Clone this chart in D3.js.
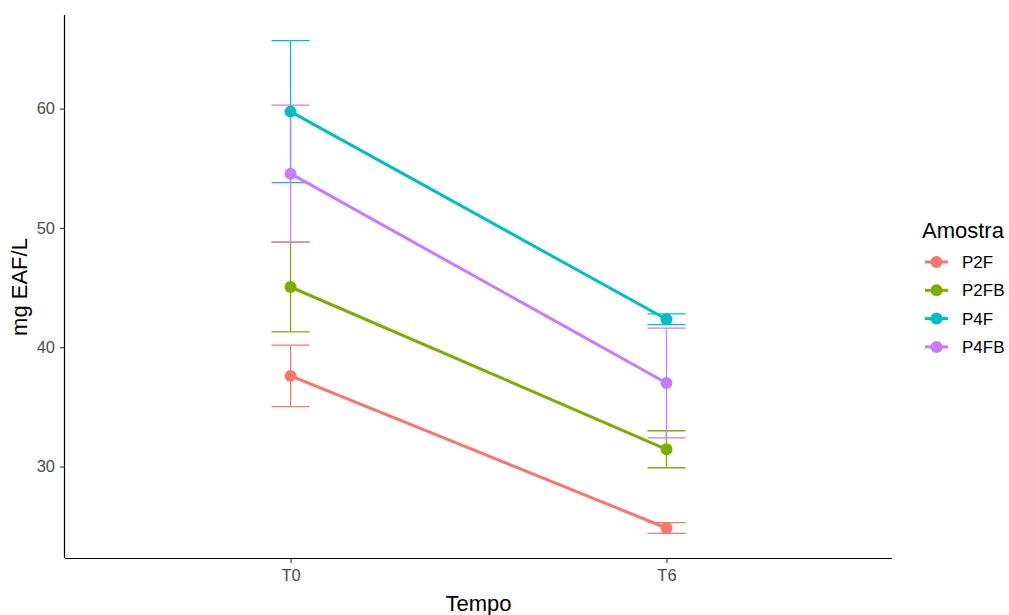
<!DOCTYPE html>
<html>
<head>
<meta charset="utf-8">
<script src="https://cdn.jsdelivr.net/npm/d3@7"></script>
<style>
  html, body { margin: 0; padding: 0; background: #fff; }
  svg { display: block; font-family: "Liberation Sans", Arial, sans-serif; }
</style>
</head>
<body>
<svg id="chart" width="1009" height="615"></svg>
<script>
// ---- data ----
const categories = ["T0", "T6"];
const seriesNames = ["P2F", "P2FB", "P4F", "P4FB"];
const seriesColors = ["#F8766D", "#7CAE00", "#00BFC4", "#C77CFF"];
const meanT0 = [37.6, 45.05, 59.75, 54.55];
const meanT6 = [24.85, 31.45, 42.35, 37.0];
const seT0 = [2.57, 3.76, 5.95, 5.74];
const seT6 = [0.45, 1.55, 0.45, 4.6];
const yTicks = [30, 40, 50, 60];
const xTitle = "Tempo";
const yTitle = "mg EAF/L";
const legendTitle = "Amostra";

// ---- build table ----
const rows = seriesNames.map((s, i) => ({
  name: s,
  color: seriesColors[i],
  pts: [
    { cat: categories[0], mean: meanT0[i], se: seT0[i] },
    { cat: categories[1], mean: meanT6[i], se: seT6[i] }
  ]
}));

const svg = d3.select("#chart");
const panel = { left: 65, right: 892, top: 16, bottom: 558 };

const allLo = rows.flatMap(r => r.pts.map(p => p.mean - p.se));
const allHi = rows.flatMap(r => r.pts.map(p => p.mean + p.se));
const lo = d3.min(allLo), hi = d3.max(allHi);
const pad = (hi - lo) * 0.05;

const x = d3.scalePoint().domain(categories).range([panel.left, panel.right]).padding(0.6);
const y = d3.scaleLinear().domain([lo - pad, hi + pad]).range([panel.bottom, panel.top]);

// axes
const xAxis = svg.append("g")
  .attr("transform", `translate(0,${panel.bottom})`)
  .call(d3.axisBottom(x).tickSize(5).tickPadding(6));
const yAxis = svg.append("g")
  .attr("transform", `translate(${panel.left},0)`)
  .call(d3.axisLeft(y).tickValues(yTicks).tickSize(5).tickPadding(5));

[xAxis, yAxis].forEach(a => {
  a.select(".domain").attr("stroke", "#000").attr("stroke-width", 1.2);
  a.selectAll(".tick line").attr("stroke", "#333").attr("stroke-width", 1.1);
  a.selectAll(".tick text").attr("fill", "#4D4D4D").style("font-size", "16.5px");
});
xAxis.select(".domain").attr("d", `M${panel.left},0.5H${panel.right}`);
yAxis.select(".domain").attr("d", `M-0.5,${panel.top - 1}V${panel.bottom}`);

// axis titles
svg.append("text")
  .attr("x", (panel.left + panel.right) / 2)
  .attr("y", 611)
  .attr("text-anchor", "middle")
  .style("font-size", "22px")
  .attr("fill", "#000")
  .text(xTitle);

svg.append("text")
  .attr("transform", `translate(27,${(panel.top + panel.bottom) / 2}) rotate(-90)`)
  .attr("text-anchor", "middle")
  .style("font-size", "22px")
  .attr("fill", "#000")
  .text(yTitle);

// error bars
const capHalf = 19;
const eb = svg.append("g");
rows.forEach(r => {
  r.pts.forEach(p => {
    const cx = x(p.cat);
    const g = eb.append("g").attr("stroke", r.color).attr("stroke-width", 1.3).attr("fill", "none");
    g.append("line").attr("x1", cx).attr("x2", cx).attr("y1", y(p.mean + p.se)).attr("y2", y(p.mean - p.se));
    g.append("line").attr("x1", cx - capHalf).attr("x2", cx + capHalf).attr("y1", y(p.mean + p.se)).attr("y2", y(p.mean + p.se));
    g.append("line").attr("x1", cx - capHalf).attr("x2", cx + capHalf).attr("y1", y(p.mean - p.se)).attr("y2", y(p.mean - p.se));
  });
});

// lines
const line = d3.line().x(d => x(d.cat)).y(d => y(d.mean));
svg.append("g").selectAll("path").data(rows).join("path")
  .attr("d", d => line(d.pts))
  .attr("stroke", d => d.color)
  .attr("stroke-width", 3)
  .attr("fill", "none");

// points
const pg = svg.append("g");
rows.forEach(r => {
  pg.selectAll(null).data(r.pts).join("circle")
    .attr("cx", d => x(d.cat))
    .attr("cy", d => y(d.mean))
    .attr("r", 6)
    .attr("fill", r.color);
});

// legend
const lg = svg.append("g");
lg.append("text")
  .attr("x", 922).attr("y", 238)
  .style("font-size", "22px")
  .attr("fill", "#000")
  .text(legendTitle);
rows.forEach((r, i) => {
  const ly = 262 + i * 28.3;
  lg.append("line").attr("x1", 925).attr("x2", 948).attr("y1", ly).attr("y2", ly)
    .attr("stroke", r.color).attr("stroke-width", 3);
  lg.append("circle").attr("cx", 936.5).attr("cy", ly).attr("r", 6).attr("fill", r.color);
  lg.append("text").attr("x", 962).attr("y", ly).attr("dy", "0.35em")
    .style("font-size", "17px").attr("fill", "#000").text(r.name);
});
</script>
</body>
</html>
